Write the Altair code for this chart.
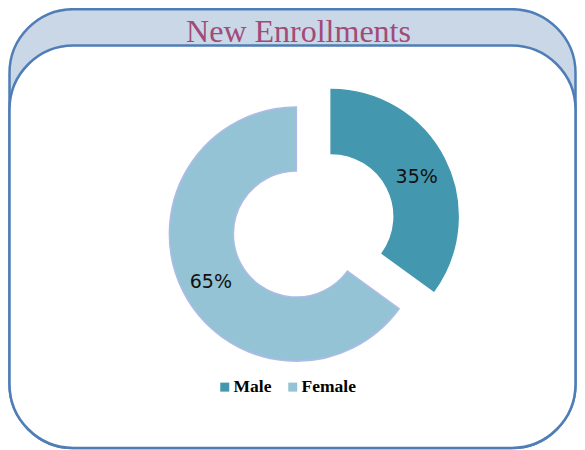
import math
import altair as alt
import pandas as pd

# ---- data ----
categories = ["Male", "Female"]
shares = [35, 65]
labels = ["35%", "65%"]

# ---- styling ----
fill_colors = ["#4398AF", "#93C3D5"]
stroke_colors = ["#4398AF", "#AEBBE6"]
frame_stroke = "#4F7EB7"
header_fill = "#C9D7E6"
title_color = "#A24A78"

W, H = 569, 442
cx, cy = 305.75, 217.25     # donut centre (px)
explode = 19.5              # slice explosion distance (px)
r_out, r_in = 127, 63
label_r = 96

df = pd.DataFrame({"category": categories, "share": shares, "label": labels})

one = pd.DataFrame({"k": [0]})

outer = alt.Chart(one).mark_rect(
    cornerRadius=64, fill=header_fill, stroke=frame_stroke, strokeWidth=2.5
).encode(x=alt.value(1.5), x2=alt.value(567.5), y=alt.value(1.2), y2=alt.value(440))

inner = alt.Chart(one).mark_rect(
    cornerRadius=64, fill="white", stroke=frame_stroke, strokeWidth=2.5
).encode(x=alt.value(1.5), x2=alt.value(567.5), y=alt.value(37.5), y2=alt.value(440))

title = alt.Chart(one).mark_text(
    text="New Enrollments", font="Liberation Serif", fontSize=32,
    color=title_color, align="center", baseline="alphabetic"
).encode(x=alt.value(290.5), y=alt.value(34))

base = alt.Chart(df).transform_joinaggregate(
    total="sum(share)"
).transform_window(
    cum="sum(share)"
).transform_calculate(
    t1="(datum.cum - datum.share) / datum.total",
    t2="datum.cum / datum.total",
).transform_calculate(
    tm="(datum.t1 + datum.t2) / 2"
).transform_calculate(
    px=f"{cx} + {explode} * sin(2 * PI * datum.tm)",
    py=f"{cy} - {explode} * cos(2 * PI * datum.tm)",
).transform_calculate(
    lx=f"datum.px + {label_r} * sin(2 * PI * datum.tm)",
    ly=f"datum.py - {label_r} * cos(2 * PI * datum.tm)",
)

arcs = base.mark_arc(outerRadius=r_out, innerRadius=r_in, strokeWidth=1.5).encode(
    theta=alt.Theta("t1:Q", stack=None, scale=alt.Scale(domain=[0, 1], range=[0, 2 * math.pi])),
    theta2="t2:Q",
    x=alt.X("px:Q", scale=None, axis=None),
    y=alt.Y("py:Q", scale=None, axis=None),
    color=alt.Color(
        "category:N",
        scale=alt.Scale(domain=categories, range=fill_colors),
        legend=alt.Legend(
            orient="none", legendX=208, legendY=370, direction="horizontal",
            title=None, symbolType="square", symbolSize=81, symbolStrokeWidth=0,
            labelFont="Liberation Serif", labelFontSize=17.5, labelFontWeight="bold",
            labelColor="black", columnPadding=12, labelOffset=0,
        ),
    ),
    stroke=alt.Stroke("category:N", scale=alt.Scale(domain=categories, range=stroke_colors), legend=None),
)

texts = base.mark_text(font="DejaVu Sans", fontSize=19, color="#111111", dy=4.5).encode(
    x=alt.X("lx:Q", scale=None, axis=None),
    y=alt.Y("ly:Q", scale=None, axis=None),
    text="label:N",
)

chart = alt.layer(outer, inner, title, arcs, texts).properties(
    width=W, height=H, padding=0, autosize=alt.AutoSizeParams(type="none")
).configure_view(stroke=None)

chart.save("out.html", embed_options={"renderer": "svg", "actions": False})
